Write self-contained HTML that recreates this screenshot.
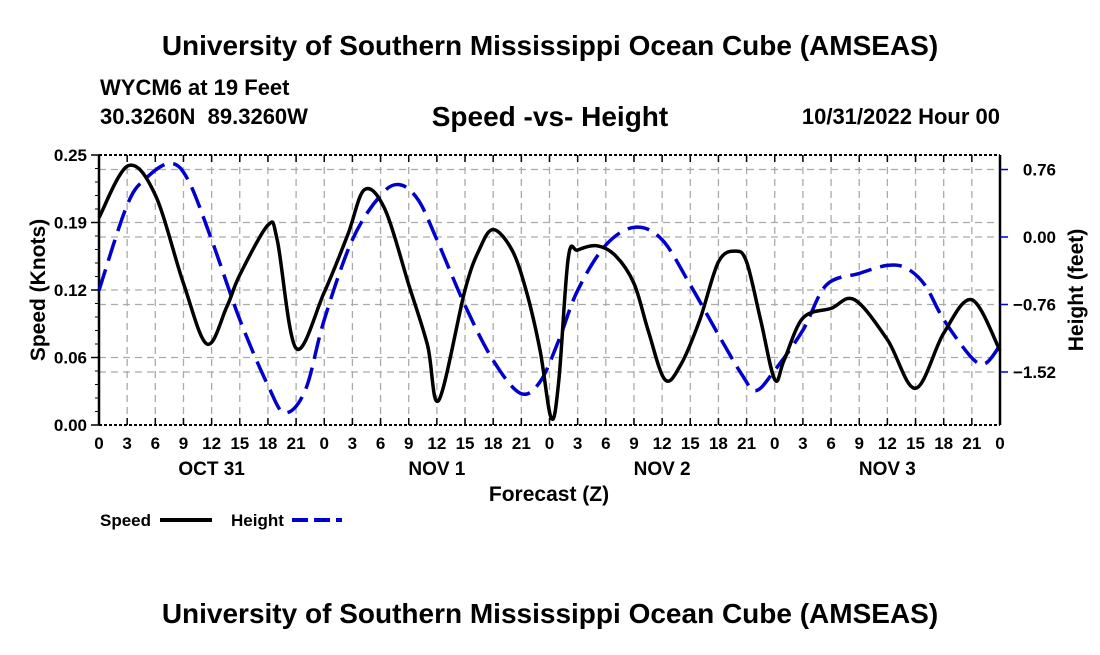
<!DOCTYPE html>
<html><head><meta charset="utf-8"><style>
body{margin:0;background:#fff;}
svg text{font-family:"Liberation Sans",Arial,sans-serif;font-weight:bold;fill:#000;white-space:pre;}
</style></head><body>
<svg id="chart" width="1100" height="650" viewBox="0 0 1100 650" xmlns="http://www.w3.org/2000/svg" xml:space="preserve">
<rect width="1100" height="650" fill="#fff"/>
<text x="550" y="55" font-size="28" text-anchor="middle">University of Southern Mississippi Ocean Cube (AMSEAS)</text>
<text x="100" y="95" font-size="22">WYCM6 at 19 Feet</text>
<text x="100" y="124" font-size="22">30.3260N  89.3260W</text>
<text x="550" y="126" font-size="28" text-anchor="middle">Speed -vs- Height</text>
<text x="1000" y="124" font-size="22" text-anchor="end">10/31/2022 Hour 00</text>
<g id="grid"></g>
<g id="axes"></g>
<g id="series"></g>
<text x="549" y="501" font-size="21" text-anchor="middle">Forecast (Z)</text>
<text transform="translate(45,290) rotate(-90)" font-size="21" text-anchor="middle">Speed (Knots)</text>
<text transform="translate(1083,290) rotate(-90)" font-size="21" text-anchor="middle">Height (feet)</text>
<g>
<text x="100" y="526" font-size="17">Speed</text>
<line x1="160" y1="520" x2="212" y2="520" stroke="#000" stroke-width="4"/>
<text x="231" y="526" font-size="17">Height</text>
<line x1="292" y1="520" x2="342" y2="520" stroke="#0000cc" stroke-width="4" stroke-dasharray="16,6"/>
</g>
<text x="550" y="623" font-size="28" text-anchor="middle">University of Southern Mississippi Ocean Cube (AMSEAS)</text>
</svg>
<script>
const speedHours=[0,3.1,6,9,11.5,13.6,15,18,19,21,24,26.5,28.3,30.5,33,35,36.2,39,40.5,42,44,45.5,47,48.2,49,50,51,53,55,57,58.5,60.3,62,64,66,67.8,69,70.5,72,73,75,78,80.5,84,87,90,93,96];
const speedValues=[0.192,0.240,0.213,0.131,0.075,0.109,0.139,0.185,0.171,0.071,0.123,0.176,0.218,0.199,0.130,0.074,0.023,0.125,0.162,0.181,0.162,0.125,0.069,0.006,0.042,0.155,0.162,0.166,0.157,0.131,0.088,0.042,0.056,0.097,0.151,0.161,0.151,0.097,0.042,0.060,0.099,0.108,0.116,0.079,0.034,0.085,0.116,0.069];
const heightHours=[0,3,5,7.6,9.5,12,15,18,19.8,22,24,27,30,32,34,36,39,42,44.9,47,49,51,54,57.1,60,63,66,68.5,70,72,75,77.5,81,84,86,88,90,93,94.5,96];
const heightValues=[-0.60,0.36,0.66,0.83,0.64,-0.03,-0.93,-1.67,-1.98,-1.72,-0.93,-0.03,0.47,0.59,0.42,-0.03,-0.77,-1.39,-1.76,-1.63,-1.16,-0.60,-0.09,0.11,-0.03,-0.54,-1.10,-1.55,-1.73,-1.50,-1.05,-0.54,-0.41,-0.32,-0.35,-0.54,-0.93,-1.36,-1.42,-1.22];
const speedTicks=[0,0.0625,0.125,0.1875,0.25];
const speedTickLabels=["0.00","0.06","0.12","0.19","0.25"];
const heightTicks=[0.76,0,-0.76,-1.52];
const heightTickLabels=["0.76","0.00","\u22120.76","\u22121.52"];
const hourLabels=["0","3","6","9","12","15","18","21"];
const dayLabels=["OCT 31","NOV 1","NOV 2","NOV 3"];

const X0=99,X1=1000,Y0=425,Y1=155;
const xs=h=>X0+(X1-X0)*h/96;
const ys=v=>Y0-(Y0-Y1)*v/0.25;
const yh=f=>237-f*88.8;
const NS='http://www.w3.org/2000/svg';
function mk(tag,attrs,parent){const e=document.createElementNS(NS,tag);for(const k in attrs)e.setAttribute(k,attrs[k]);parent.appendChild(e);return e;}
const grid=document.getElementById('grid'),axes=document.getElementById('axes'),series=document.getElementById('series');
for(let i=1;i<32;i++){const l=mk('line',{x1:xs(i*3),x2:xs(i*3),y1:Y1,y2:Y0,stroke:'#aaa','stroke-width':1.3,'stroke-dasharray':'7,5'},grid);

}
speedTicks.slice(1,4).forEach(v=>{const l=mk('line',{x1:X0,x2:X1,y1:ys(v),y2:ys(v),stroke:'#aaa','stroke-width':1.3,'stroke-dasharray':'7,5'},grid);

});
heightTicks.forEach(v=>{const l=mk('line',{x1:X0,x2:X1,y1:yh(v),y2:yh(v),stroke:'#aaa','stroke-width':1.3,'stroke-dasharray':'7,5'},grid);

});
mk('line',{x1:X0,x2:X1,y1:Y1,y2:Y1,stroke:'#000','stroke-width':2,'stroke-dasharray':'3,2'},axes);
mk('line',{x1:X0,x2:X1,y1:Y0,y2:Y0,stroke:'#000','stroke-width':2,'stroke-dasharray':'3,2'},axes);
mk('line',{x1:X0,x2:X0,y1:Y1,y2:Y0,stroke:'#000','stroke-width':2.5},axes);
mk('line',{x1:X1,x2:X1,y1:Y1,y2:Y0,stroke:'#000','stroke-width':2.5},axes);
for(let i=0;i<=32;i++){const x=xs(i*3);
mk('line',{x1:x,x2:x,y1:Y0,y2:Y0-7,stroke:'#000','stroke-width':1.5},axes);
mk('line',{x1:x,x2:x,y1:Y1,y2:Y1+7,stroke:'#000','stroke-width':1.5},axes);
const t=mk('text',{x:x,y:Y0+24,'font-size':17,'text-anchor':'middle'},axes);t.textContent=hourLabels[i%8];

}
dayLabels.forEach((d,i)=>{const t=mk('text',{x:xs(12+24*i),y:Y0+50,'font-size':19,'text-anchor':'middle'},axes);t.textContent=d;

});
for(let i=0;i<=20;i++){const y=ys(i*0.0125);mk('line',{x1:X0-4,x2:X0,y1:y,y2:y,stroke:'#000','stroke-width':1},axes);}
speedTicks.forEach((v,i)=>{mk('line',{x1:X0-8,x2:X0,y1:ys(v),y2:ys(v),stroke:'#000','stroke-width':1.5},axes);
const t=mk('text',{x:X0-12,y:ys(v)+6,'font-size':17,'text-anchor':'end'},axes);t.textContent=speedTickLabels[i];

});
heightTicks.forEach((v,i)=>{mk('line',{x1:X1,x2:X1+8,y1:yh(v),y2:yh(v),stroke:'#0000cc','stroke-width':1.5},axes);
const t=mk('text',{x:1056,y:yh(v)+6,'font-size':17,'text-anchor':'end'},axes);t.textContent=heightTickLabels[i];

});
function smooth(pts){let d='M'+pts[0][0].toFixed(1)+','+pts[0][1].toFixed(1);
for(let i=0;i<pts.length-1;i++){const p0=pts[i-1]||pts[i],p1=pts[i],p2=pts[i+1],p3=pts[i+2]||p2;
const c1=[p1[0]+(p2[0]-p0[0])/6,p1[1]+(p2[1]-p0[1])/6],c2=[p2[0]-(p3[0]-p1[0])/6,p2[1]-(p3[1]-p1[1])/6];
d+='C'+c1.map(v=>v.toFixed(1))+' '+c2.map(v=>v.toFixed(1))+' '+p2.map(v=>v.toFixed(1));}
return d;}
const hp=mk('path',{d:smooth(heightHours.map((h,i)=>[xs(h),yh(heightValues[i])])),fill:'none',stroke:'#0000cc','stroke-width':3.5,'stroke-dasharray':'22,9'},series);


const sp=mk('path',{d:smooth(speedHours.map((h,i)=>[xs(h),ys(speedValues[i])])),fill:'none',stroke:'#000','stroke-width':3.5,'stroke-linejoin':'round'},series);


</script>
</body></html>
